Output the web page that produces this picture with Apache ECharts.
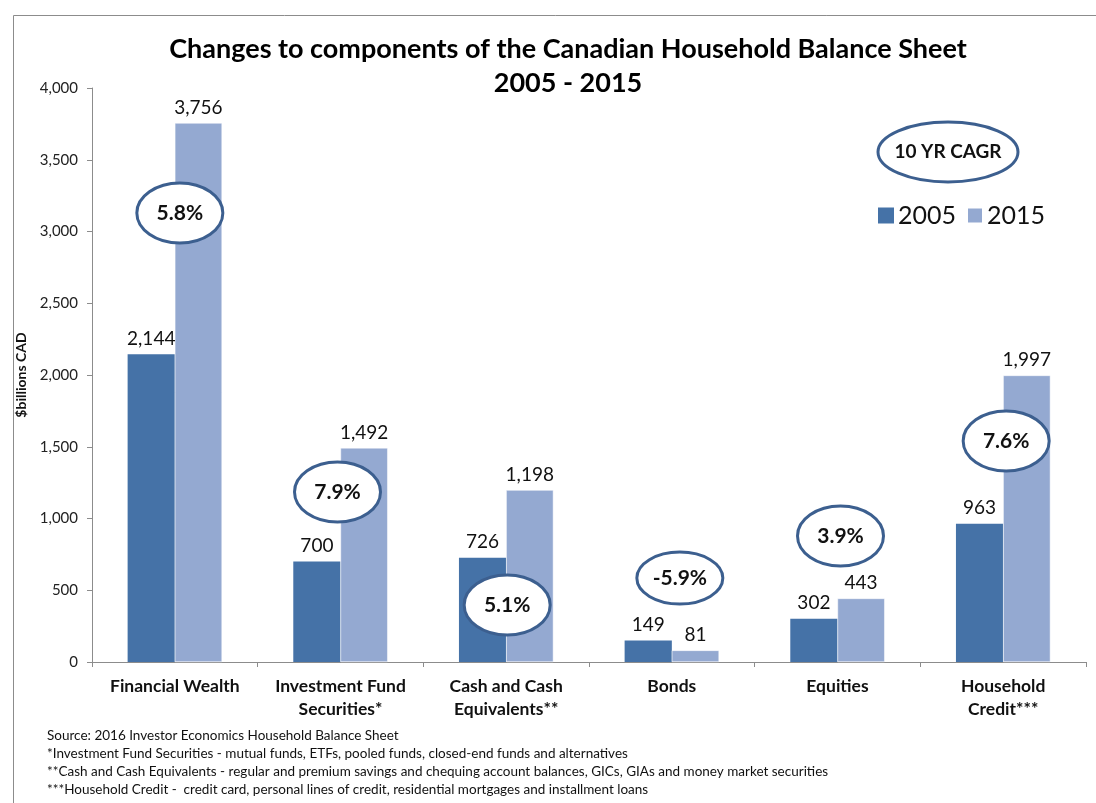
<!DOCTYPE html>
<html>
<head>
<meta charset="utf-8">
<script src="https://cdn.jsdelivr.net/npm/echarts@6/dist/echarts.min.js"></script>
<style>
html,body{margin:0;padding:0;background:#fff;}
#main{width:1096px;height:803px;}
</style>
</head>
<body>
<div id="main"></div>
<script>
const categories = ['Financial Wealth', 'Investment Fund\nSecurities*', 'Cash and Cash\nEquivalents**', 'Bonds', 'Equities', 'Household\nCredit***'];
const values2005 = [2144, 700, 726, 149, 302, 963];
const values2015 = [3756, 1492, 1198, 81, 443, 1997];
const cagrLabels = ['5.8%', '7.9%', '5.1%', '-5.9%', '3.9%', '7.6%'];
// anchor of each CAGR bubble: [category index, value on axis]
const cagrAnchors = [[0, 3129], [1, 1185], [2, 397], [3, 585], [4, 878], [5, 1540]];
const cagrOffsetX = [5, -3, 1, 8, 3, 3];
const yTicks = [0, 500, 1000, 1500, 2000, 2500, 3000, 3500, 4000];
const footnotes = [
  'Source: 2016 Investor Economics Household Balance Sheet',
  '*Investment Fund Securities - mutual funds, ETFs, pooled funds, closed-end funds and alternatives',
  '**Cash and Cash Equivalents - regular and premium savings and chequing account balances, GICs, GIAs and money market securities',
  '***Household Credit -  credit card, personal lines of credit, residential mortgages and installment loans'
];

const FONT = 'Lato, "Open Sans", sans-serif';
const dark = '#4572A7';
const light = '#94A9D1';
const ring = '#3C5F8F';
const fmt = v => v.toLocaleString('en-US');

const chart = echarts.init(document.getElementById('main'));
const labelStyle = {show: true, position: 'top', distance: 6, fontSize: 19, color: '#111', fontFamily: FONT, formatter: p => fmt(p.value)};

chart.setOption({
  animation: false,
  backgroundColor: '#fff',
  textStyle: {fontFamily: FONT},
  title: {
    text: 'Changes to components of the Canadian Household Balance Sheet\n2005 - 2015',
    left: 563, top: 27, textAlign: 'center',
    textStyle: {fontSize: 27, fontWeight: 'bold', color: '#000', lineHeight: 34, fontFamily: FONT}
  },
  legend: {
    left: 873, top: 198,
    itemWidth: 16, itemHeight: 16, itemGap: 10,
    icon: 'rect',
    textStyle: {fontSize: 25, color: '#111', fontFamily: FONT, padding: [0, 0, 0, -1]},
    data: ['2005', '2015']
  },
  grid: {left: 92, right: 10, top: 88, bottom: 141, containLabel: false},
  xAxis: {
    type: 'category',
    data: categories,
    axisLine: {lineStyle: {color: '#8c8c8c', width: 1}},
    axisTick: {show: true, length: 5, lineStyle: {color: '#8c8c8c'}},
    axisLabel: {fontSize: 17.5, fontWeight: 'bold', color: '#111', lineHeight: 23, margin: 13, fontFamily: FONT, interval: 0}
  },
  yAxis: {
    type: 'value', min: 0, max: 4000, interval: 500,
    name: '$billions CAD', nameLocation: 'middle', nameGap: 62, nameRotate: 90,
    nameTextStyle: {fontSize: 14, fontWeight: 'bold', color: '#111', fontFamily: FONT},
    axisLine: {show: true, lineStyle: {color: '#8c8c8c'}},
    axisTick: {show: true, length: 5, inside: false, lineStyle: {color: '#8c8c8c'}},
    splitLine: {show: false},
    axisLabel: {fontSize: 15, color: '#222', margin: 14, fontFamily: FONT, formatter: v => fmt(v)}
  },
  series: [
    {name: '2005', type: 'bar', data: values2005, barGap: '0%', barCategoryGap: '43%',
     itemStyle: {color: dark}, label: labelStyle},
    {name: '2015', type: 'bar', data: values2015,
     itemStyle: {color: light, borderColor: '#fff', borderWidth: 0.5}, label: labelStyle}
  ]
});

function bubble(cx, cy, rx, ry, text, fs) {
  return {
    type: 'group', z: 100,
    children: [
      {type: 'ellipse', shape: {cx: cx, cy: cy, rx: rx, ry: ry},
       style: {fill: '#fff', stroke: ring, lineWidth: 3}, z: 100},
      {type: 'text', x: cx, y: cy, z: 101,
       style: {text: text, fontSize: fs, fontWeight: 'bold', fill: '#111', fontFamily: FONT, align: 'center', verticalAlign: 'middle'}}
    ]
  };
}

const graphics = [
  {type: 'rect', shape: {x: 13.5, y: 15.5, width: 1200, height: 1000}, style: {fill: 'none', stroke: '#8c8c8c', lineWidth: 1}, z: 0, silent: true},
  bubble(948, 152, 70, 30, '10 YR CAGR', 19)
];
cagrAnchors.forEach((a, i) => {
  const p = chart.convertToPixel({gridIndex: 0}, [a[0], a[1]]);
  graphics.push(bubble(p[0] + cagrOffsetX[i], p[1], 43, i === 3 ? 26 : 30, cagrLabels[i], 21));
});
footnotes.forEach((t, i) => {
  graphics.push({type: 'text', left: 47, top: 729 + i * 18, z: 50,
    style: {text: t, fontSize: 13.5, fill: '#111', fontFamily: FONT}});
});
chart.setOption({graphic: graphics});
</script>
</body>
</html>
